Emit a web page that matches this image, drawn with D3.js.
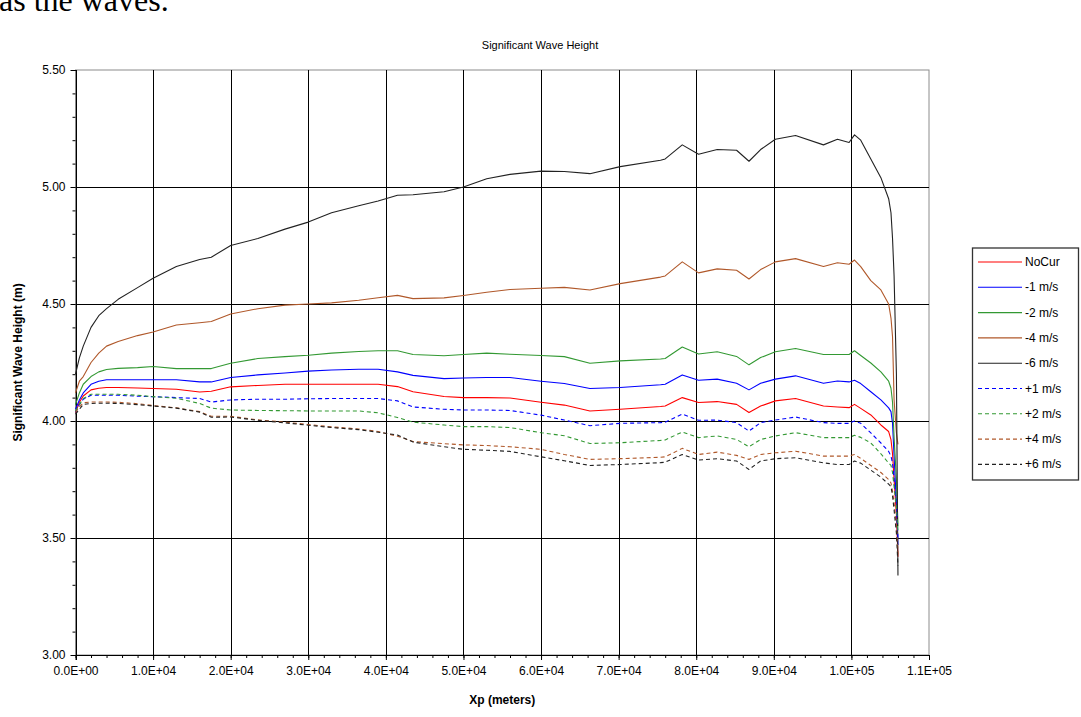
<!DOCTYPE html>
<html>
<head>
<meta charset="utf-8">
<script src="https://cdn.jsdelivr.net/npm/d3@7"></script>
<style>
  html, body { margin: 0; padding: 0; background: #fff; }
  svg { display: block; }
  text { font-family: "Liberation Sans", Arial, sans-serif; fill: #000; }
</style>
</head>
<body>
<svg id="chart" width="1081" height="717"></svg>
<script>
// ---------- data ----------
const xs = [0, 500, 1000, 2000, 3000, 4000, 5500, 8000, 10000, 13000, 16000, 17500, 20000, 23500, 27000, 30000, 33000, 36500, 39000, 41500, 43500, 47500, 50000, 53000, 56000, 60000, 63000, 66300, 70200, 75400, 76000, 78200, 80300, 82700, 85200, 86800, 88300, 90200, 92800, 96400, 98200, 99700, 100400, 101200, 102500, 103800, 104800, 105100, 105300, 105500, 105800, 106000];

const noCur = [4.036, 4.08, 4.107, 4.133, 4.14, 4.143, 4.143, 4.141, 4.139, 4.136, 4.124, 4.127, 4.146, 4.152, 4.157, 4.157, 4.157, 4.157, 4.157, 4.147, 4.125, 4.105, 4.10, 4.10, 4.098, 4.08, 4.068, 4.043, 4.05, 4.062, 4.064, 4.10, 4.079, 4.083, 4.071, 4.036, 4.064, 4.086, 4.096, 4.064, 4.06, 4.057, 4.071, 4.054, 4.026, 3.983, 3.955, 3.92, 3.86, 3.75, 3.60, 3.42];
const m1 = [4.05, 4.09, 4.12, 4.157, 4.17, 4.176, 4.176, 4.176, 4.176, 4.176, 4.167, 4.167, 4.186, 4.197, 4.205, 4.213, 4.218, 4.221, 4.221, 4.21, 4.195, 4.181, 4.184, 4.186, 4.186, 4.17, 4.16, 4.139, 4.143, 4.155, 4.157, 4.197, 4.174, 4.179, 4.161, 4.133, 4.161, 4.179, 4.193, 4.161, 4.171, 4.167, 4.174, 4.16, 4.125, 4.09, 4.056, 4.04, 3.99, 3.85, 3.65, 3.47];
const m2 = [4.07, 4.12, 4.157, 4.19, 4.21, 4.22, 4.225, 4.228, 4.233, 4.224, 4.224, 4.224, 4.247, 4.267, 4.275, 4.281, 4.29, 4.297, 4.30, 4.30, 4.284, 4.279, 4.284, 4.29, 4.285, 4.28, 4.275, 4.247, 4.257, 4.265, 4.267, 4.316, 4.286, 4.296, 4.276, 4.24, 4.271, 4.296, 4.31, 4.284, 4.284, 4.284, 4.30, 4.28, 4.248, 4.21, 4.17, 4.14, 4.08, 3.93, 3.75, 3.55];
const m4 = [4.12, 4.17, 4.19, 4.25, 4.29, 4.32, 4.34, 4.365, 4.38, 4.41, 4.42, 4.425, 4.457, 4.48, 4.495, 4.50, 4.505, 4.516, 4.527, 4.537, 4.523, 4.526, 4.536, 4.55, 4.562, 4.567, 4.571, 4.56, 4.587, 4.615, 4.62, 4.68, 4.633, 4.65, 4.644, 4.607, 4.647, 4.68, 4.694, 4.66, 4.676, 4.67, 4.688, 4.66, 4.60, 4.56, 4.50, 4.44, 4.36, 4.09, 3.95, 3.90];
const m6 = [4.20, 4.27, 4.32, 4.40, 4.45, 4.48, 4.52, 4.57, 4.61, 4.66, 4.69, 4.70, 4.75, 4.78, 4.82, 4.85, 4.89, 4.92, 4.94, 4.965, 4.967, 4.98, 5.00, 5.035, 5.054, 5.068, 5.066, 5.057, 5.087, 5.114, 5.12, 5.18, 5.14, 5.16, 5.157, 5.11, 5.16, 5.204, 5.22, 5.18, 5.204, 5.19, 5.223, 5.20, 5.12, 5.04, 4.95, 4.89, 4.78, 4.62, 4.20, 3.34];
const p1 = [4.036, 4.07, 4.093, 4.11, 4.11, 4.11, 4.11, 4.106, 4.104, 4.10, 4.096, 4.081, 4.09, 4.093, 4.093, 4.095, 4.096, 4.096, 4.096, 4.086, 4.06, 4.05, 4.047, 4.047, 4.045, 4.025, 4.004, 3.98, 3.99, 3.993, 3.995, 4.03, 4.003, 4.004, 3.993, 3.957, 3.993, 4.004, 4.017, 3.993, 3.99, 3.99, 4.0, 3.99, 3.949, 3.906, 3.87, 3.85, 3.82, 3.75, 3.65, 3.50];
const p2 = [4.043, 4.07, 4.096, 4.114, 4.114, 4.114, 4.114, 4.11, 4.104, 4.097, 4.075, 4.055, 4.047, 4.045, 4.044, 4.043, 4.043, 4.043, 4.035, 4.015, 3.995, 3.983, 3.976, 3.976, 3.972, 3.95, 3.937, 3.904, 3.907, 3.917, 3.919, 3.953, 3.929, 3.936, 3.921, 3.89, 3.921, 3.936, 3.95, 3.929, 3.929, 3.929, 3.939, 3.93, 3.906, 3.86, 3.82, 3.81, 3.78, 3.72, 3.63, 3.52];
const p4 = [4.036, 4.06, 4.078, 4.081, 4.081, 4.081, 4.08, 4.074, 4.066, 4.056, 4.04, 4.02, 4.02, 4.005, 3.995, 3.985, 3.975, 3.966, 3.955, 3.935, 3.912, 3.903, 3.898, 3.895, 3.89, 3.879, 3.857, 3.836, 3.839, 3.845, 3.847, 3.883, 3.857, 3.867, 3.853, 3.836, 3.857, 3.864, 3.871, 3.85, 3.85, 3.85, 3.857, 3.84, 3.81, 3.78, 3.75, 3.735, 3.70, 3.65, 3.55, 3.43];
const p6 = [4.029, 4.05, 4.071, 4.075, 4.076, 4.076, 4.075, 4.07, 4.064, 4.055, 4.038, 4.016, 4.017, 4.003, 3.992, 3.982, 3.972, 3.963, 3.952, 3.94, 3.91, 3.89, 3.879, 3.875, 3.87, 3.847, 3.83, 3.81, 3.814, 3.822, 3.824, 3.857, 3.833, 3.839, 3.829, 3.793, 3.829, 3.839, 3.843, 3.821, 3.814, 3.814, 3.829, 3.82, 3.79, 3.76, 3.73, 3.72, 3.68, 3.62, 3.52, 3.38];

const seriesNames = ["NoCur", "-1 m/s", "-2 m/s", "-4 m/s", "-6 m/s", "+1 m/s", "+2 m/s", "+4 m/s", "+6 m/s"];
const seriesValues = [noCur, m1, m2, m4, m6, p1, p2, p4, p6];

const xTicks = [0, 10000, 20000, 30000, 40000, 50000, 60000, 70000, 80000, 90000, 100000, 110000];
const xTickLabels = ["0.0E+00", "1.0E+04", "2.0E+04", "3.0E+04", "4.0E+04", "5.0E+04", "6.0E+04", "7.0E+04", "8.0E+04", "9.0E+04", "1.0E+05", "1.1E+05"];
const yTicks = [3.0, 3.5, 4.0, 4.5, 5.0, 5.5];
const yTickLabels = ["3.00", "3.50", "4.00", "4.50", "5.00", "5.50"];

const titleText = "Significant Wave Height";
const xTitle = "Xp (meters)";
const yTitle = "Significant Wave Height (m)";
const topText = "as the waves.";

// ---------- styles ----------
const colors = ["#FF0000", "#0000FF", "#339933", "#B0582A", "#222222", "#0000FF", "#339933", "#B0582A", "#222222"];
const dashes = [null, null, null, null, null, "4,3", "4,3", "4,3", "4,3"];

// ---------- layout ----------
const svg = d3.select("#chart");
const L = 75.5, R = 929, T = 70, B = 655;
const x = d3.scaleLinear().domain([0, 110000]).range([L, R]);
const y = d3.scaleLinear().domain([3, 5.5]).range([B, T]);

// partial body text at top
svg.append("text").attr("x", -1).attr("y", 11)
  .style("font-family", "'Liberation Serif', 'Times New Roman', serif")
  .style("font-size", "32px").text(topText);

// title
svg.append("text").attr("x", 540).attr("y", 49).attr("text-anchor", "middle")
  .style("font-size", "11px").text(titleText);

// plot border (gray) 
svg.append("rect").attr("x", L).attr("y", T).attr("width", R - L).attr("height", B - T)
  .attr("fill", "none").attr("stroke", "#8c8c8c").attr("stroke-width", 1);

// gridlines
const gx = svg.append("g").attr("shape-rendering", "crispEdges");
gx.selectAll("line.vg").data(xTicks.filter(v => v > 0 && v < 110000)).enter().append("line")
  .attr("x1", d => Math.round(x(d)) + 0.5).attr("x2", d => Math.round(x(d)) + 0.5)
  .attr("y1", T).attr("y2", B).attr("stroke", "#000");
gx.selectAll("line.hg").data(yTicks.filter(v => v > 3 && v < 5.5)).enter().append("line")
  .attr("x1", L).attr("x2", R)
  .attr("y1", d => Math.round(y(d)) + 0.5).attr("y2", d => Math.round(y(d)) + 0.5).attr("stroke", "#000");

// axes
const yMinor = d3.range(3.0, 5.5001, 0.1);
const xMinor = d3.range(0, 110001, 2000);

const yAxisMinor = d3.axisLeft(y).tickValues(yMinor).tickSize(3).tickFormat("");
const yAxis = d3.axisLeft(y).tickValues(yTicks).tickSize(5).tickPadding(5)
  .tickFormat((d, i) => yTickLabels[i]);
const xAxisMinor = d3.axisBottom(x).tickValues(xMinor).tickSize(3).tickFormat("");
const xAxis = d3.axisBottom(x).tickValues(xTicks).tickSize(5).tickPadding(6)
  .tickFormat((d, i) => xTickLabels[i]);

function styleAxis(g) {
  g.selectAll("path").attr("stroke", "#000");
  g.selectAll("line").attr("stroke", "#000");
  g.selectAll("text").style("font-family", "'Liberation Sans', Arial, sans-serif")
    .style("font-size", "12px").attr("fill", "#000");
}
svg.append("g").attr("transform", `translate(${L},0)`).call(yAxisMinor).call(styleAxis);
svg.append("g").attr("transform", `translate(${L},0)`).call(yAxis).call(styleAxis);
svg.append("g").attr("transform", `translate(0,${B})`).call(xAxisMinor).call(styleAxis);
svg.append("g").attr("transform", `translate(0,${B})`).call(xAxis).call(styleAxis);
svg.selectAll(".domain").attr("shape-rendering", "crispEdges");

// axis titles
svg.append("text").attr("x", (L + R) / 2).attr("y", 704).attr("text-anchor", "middle")
  .style("font-size", "12px").style("font-weight", "bold").text(xTitle);
svg.append("text").attr("transform", `translate(22,${(T + B) / 2}) rotate(-90)`)
  .attr("text-anchor", "middle").style("font-size", "12px").style("font-weight", "bold").text(yTitle);

// series lines
const line = d3.line().x((d, i) => x(xs[i])).y(d => y(d));
const plot = svg.append("g");
seriesValues.forEach((vals, k) => {
  plot.append("path").datum(vals).attr("d", line)
    .attr("fill", "none").attr("stroke", colors[k]).attr("stroke-width", 1.1)
    .attr("stroke-dasharray", dashes[k]).attr("stroke-linejoin", "round");
});

// legend
const lg = svg.append("g");
const LX = 972.5, LY = 248, LW = 106, LH = 232;
lg.append("rect").attr("x", LX).attr("y", LY).attr("width", LW).attr("height", LH)
  .attr("fill", "#fff").attr("stroke", "#333").attr("stroke-width", 1.3);
seriesNames.forEach((name, k) => {
  const yy = 262 + k * 25.3;
  lg.append("line").attr("x1", 978).attr("x2", 1022).attr("y1", yy).attr("y2", yy)
    .attr("stroke", colors[k]).attr("stroke-width", 1.1).attr("stroke-dasharray", dashes[k]);
  lg.append("text").attr("x", 1025).attr("y", yy + 4).style("font-size", "12px").text(name);
});
</script>
</body>
</html>
